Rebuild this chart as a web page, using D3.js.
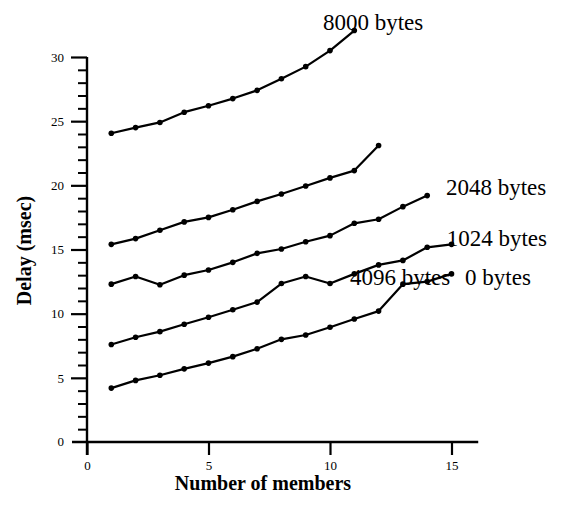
<!DOCTYPE html>
<html>
<head>
<meta charset="utf-8">
<script src="https://cdn.jsdelivr.net/npm/d3@7"></script>
<style>
  body { margin: 0; background: #fff; }
  svg { display: block; }
  text { font-family: "Liberation Serif", "Times New Roman", serif; fill: #000; }
</style>
</head>
<body>
<svg id="chart" width="561" height="508"></svg>
<script>
// number of group members (x) and measured delays in msec (y), one array per packet size
const members = [1, 2, 3, 4, 5, 6, 7, 8, 9, 10, 11, 12, 13, 14, 15];
const delay0 = [4.2, 4.8, 5.2, 5.7, 6.15, 6.65, 7.27, 8.0, 8.34, 8.94, 9.59, 10.2, 12.3, 12.5, 13.1];
const delay1024 = [7.6, 8.16, 8.6, 9.17, 9.72, 10.3, 10.9, 12.35, 12.9, 12.35, 13.1, 13.8, 14.15, 15.17, 15.4];
const delay2048 = [12.3, 12.9, 12.25, 13.0, 13.4, 14.0, 14.7, 15.04, 15.6, 16.08, 17.04, 17.36, 18.34, 19.2];
const delay4096 = [15.4, 15.85, 16.5, 17.15, 17.5, 18.1, 18.75, 19.33, 19.95, 20.58, 21.15, 23.1];
const delay8000 = [24.06, 24.5, 24.9, 25.7, 26.2, 26.76, 27.4, 28.3, 29.25, 30.5, 32.06];

const seriesNames = ["0 bytes", "1024 bytes", "2048 bytes", "4096 bytes", "8000 bytes"];
const seriesValues = [delay0, delay1024, delay2048, delay4096, delay8000];
// where each label sits, in data units (members, delay)
const labelX = [15.56, 14.8, 14.77, 10.82, 9.71];
const labelY = [12.24, 15.28, 19.25, 12.24, 32.1];

const xTicks = [0, 5, 10, 15];
const yTicks = [0, 5, 10, 15, 20, 25, 30];
const yMinorTicks = d3.range(0, 31);

const svg = d3.select("#chart");

const x = d3.scaleLinear().domain([0, 15]).range([87, 451.5]);
const y = d3.scaleLinear().domain([0, 30]).range([442, 57]);

const axes = svg.append("g");

// axis lines, crossing at the origin with a little overhang
axes.append("line")
    .attr("x1", x(0)).attr("x2", x(0))
    .attr("y1", y(30)).attr("y2", y(0) + 13)
    .attr("stroke", "#000").attr("stroke-width", 2.4);
axes.append("line")
    .attr("x1", x(0) - 15).attr("x2", x(16.1))
    .attr("y1", y(0)).attr("y2", y(0))
    .attr("stroke", "#000").attr("stroke-width", 2.4);

// y minor ticks
axes.append("g")
    .attr("transform", `translate(${x(0)},0)`)
    .call(d3.axisLeft(y).tickValues(yMinorTicks.filter(v => v % 5 !== 0)).tickSize(9).tickFormat(""))
    .call(g => g.select(".domain").remove())
    .call(g => g.selectAll("line").attr("stroke-width", 2));

// y major ticks
axes.append("g")
    .attr("transform", `translate(${x(0)},0)`)
    .call(d3.axisLeft(y).tickValues(yTicks.filter(v => v !== 0)).tickSize(16).tickPadding(7))
    .call(g => g.select(".domain").remove())
    .call(g => g.selectAll("line").attr("stroke-width", 2.2))
    .call(g => g.selectAll("text").style("font-size", "13px").style("font-family", "Liberation Serif"));

axes.append("text")
    .attr("x", x(0) - 23).attr("y", y(0))
    .attr("dy", "0.32em")
    .attr("text-anchor", "end")
    .style("font-size", "13px")
    .text("0");

// x ticks
axes.append("g")
    .attr("transform", `translate(0,${y(0)})`)
    .call(d3.axisBottom(x).tickValues(xTicks).tickSize(13).tickPadding(6))
    .call(g => g.select(".domain").remove())
    .call(g => g.selectAll("line").attr("stroke-width", 2.2))
    .call(g => g.selectAll("text").style("font-size", "13px").style("font-family", "Liberation Serif"));

// axis titles
svg.append("text")
    .attr("transform", `translate(31,${(y(0) + y(30)) / 2 + 1}) rotate(-90)`)
    .attr("text-anchor", "middle")
    .style("font-size", "20px")
    .style("font-weight", "bold")
    .text("Delay (msec)");

svg.append("text")
    .attr("x", 263).attr("y", 490)
    .attr("text-anchor", "middle")
    .style("font-size", "20px")
    .style("font-weight", "bold")
    .text("Number of members");

// series
const line = d3.line()
    .x((d, i) => x(members[i]))
    .y(d => y(d));

const series = svg.selectAll(".series")
    .data(seriesValues)
    .join("g")
    .attr("class", "series");

series.append("path")
    .attr("d", d => line(d))
    .attr("fill", "none")
    .attr("stroke", "#000")
    .attr("stroke-width", 2.2)
    .attr("stroke-linejoin", "round");

series.selectAll("circle")
    .data(d => d)
    .join("circle")
    .attr("cx", (d, i) => x(members[i]))
    .attr("cy", d => y(d))
    .attr("r", 2.8)
    .attr("fill", "#000");

svg.selectAll(".label")
    .data(seriesNames)
    .join("text")
    .attr("class", "label")
    .attr("x", (d, i) => x(labelX[i]))
    .attr("y", (d, i) => y(labelY[i]))
    .style("font-size", "23px")
    .text(d => d);
</script>
</body>
</html>
